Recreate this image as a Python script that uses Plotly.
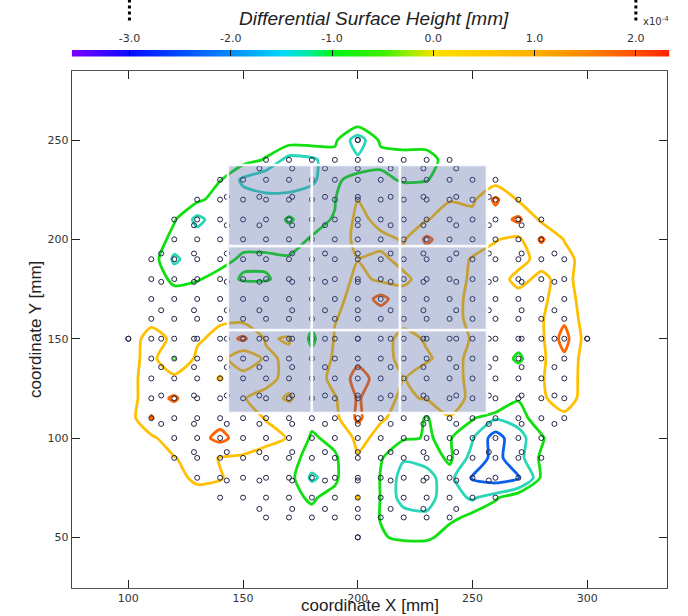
import plotly.graph_objects as go

# ---------------- data ----------------
# measurement grid for the surface height map (values in units of 1e-4 mm)
x_grid = [90, 100, 110, 120, 130, 140, 150, 160, 170, 180, 190, 200, 210, 220, 230, 240, 250, 260, 270, 280, 290, 300, 310]
y_grid = [40, 50, 60, 70, 80, 90, 100, 110, 120, 130, 140, 150, 160, 170, 180, 190, 200, 210, 220, 230, 240, 250, 260]
z_grid = [
    [0, 0, 0, 0, 0, 0, 0, 0, 0, 0, 0, 0, 0, 0, 0, 0, 0, 0, 0, 0, 0, 0, 0],
    [0, 0, 0, 0, 0, 0, 0, 0, 0, 0, 0, 0, -0.9, -1.2, -1.2, -0.6, 0, 0, 0, 0, 0, 0, 0],
    [0, 0, 0, 0, 0, 0, 0, -0.2, -0.5, -0.8, -0.5, -0.2, -1.05, -1.3, -1.4, -1.2, -0.8, -0.5, 0, 0, 0, 0, 0],
    [0, 0, 0, 0, 0.1, 0.2, 0, -0.3, -0.8, -1.1, -0.7, 0.55, -1.05, -1.7, -1.7, -1.2, -1.6, -1.1, -0.5, -0.3, 0, 0, 0],
    [0, 0, 0, 0.2, 0.7, 0.55, 0.2, 0, -0.8, -1.6, -1.2, 0.1, -1.05, -1.7, -1.7, -1.2, -2.6, -3.0, -2.6, -0.9, -0.2, 0, 0],
    [0, 0, 0, 0.45, 0.9, 0.45, 0.4, 0.1, -0.8, -1.2, -1.2, 0.4, -0.95, -1.45, -1.3, -0.9, -1.7, -2.9, -1.7, -0.9, -0.2, 0, 0],
    [0, 0, 0.3, 1.1, 1.1, 1.8, 1.0, 0.8, 0.45, -1.2, -0.6, 0.8, 0.2, -0.95, -1.02, -0.95, -1.45, -3.0, -1.7, -1.1, -0.3, 0, 0],
    [0, 0, 1.55, 1.0, 1.0, 1.1, 0.9, 0.45, 0, -0.6, 0.2, 1.7, 0.6, 0.2, -1.15, 0.45, -0.95, -1.4, -1.3, -0.6, 0.2, 0, 0],
    [0, 0, 1.2, 1.6, 1.0, 1.0, 0.55, 0.2, 0.6, 0, 0.4, 1.6, 0.9, 0.3, 0.6, 0.9, 0.3, 0, -0.95, 0.3, 1.1, 0, 0],
    [0, 0, 1.2, 0.9, 0.9, 0.45, 1.0, 0.8, 0.2, -0.2, 0.9, 1.8, 1.2, 0.45, 0.9, 0.8, 0.3, 0, 0, 0.4, 1.2, 0, 0],
    [0, 0, 1.0, -1.05, 0.8, 0.9, -0.3, 0.7, 0.3, -0.6, 0.7, 1.3, 0.9, 0.2, 0.4, 0.8, 0.3, 0, -1.3, 0.3, 1.3, 0, 0],
    [0, 0, 0.9, 0.3, 0.3, 0.9, 1.7, 0.4, 0.58, -1.3, 0.6, 0.9, 0.9, 0.2, 0.6, 0.8, 0.45, 0, -0.3, 0.3, 1.9, 0, 0],
    [0, 0, 0.2, 0.1, 0, 0.3, 0.2, 0, -0.2, -0.6, 0.45, 0.9, 0.9, 0.8, 0.9, 0.8, 0.3, 0, 0, 0.4, 1.3, 0, 0],
    [0, 0, -0.3, -0.6, -0.6, -0.5, -0.5, -0.5, -0.4, -0.2, 0.2, 0.9, 1.8, 0.9, 0.9, 0.8, 0.3, 0, 0.2, 0.3, 1.0, 0, 0],
    [0, 0, -0.5, -1.2, -1.05, -0.8, -1.05, -1.05, -0.8, -0.6, -0.2, 0.8, 0.3, 0.3, 0.9, 0.8, 0.4, 0.1, 0.75, 0.3, 0.8, 0, 0],
    [0, 0, -0.7, -1.6, -1.2, -1.2, -0.9, -0.9, -0.95, -0.98, -0.3, 0.47, 0.3, 0.8, 0.9, 0.8, 0.45, 0.2, 0.2, 0.8, 0.9, 0, 0],
    [0, 0, -0.6, -1.2, -1.25, -1.25, -1.2, -1.2, -1.2, -0.95, -0.4, 0.9, 0.8, 0.4, 1.7, 0.9, 0.8, 0.55, 0.3, 1.65, 0.45, 0, 0],
    [0, 0, 0, -0.95, -1.65, -1.2, -1.25, -1.25, -0.95, -1.2, -0.95, 0.9, 0.1, 0.1, 0.45, 0.9, 0.9, 1.0, 1.7, 0.3, 0, 0, 0],
    [0, 0, 0, -0.5, -0.9, -1.2, -1.3, -1.3, -1.3, -1.25, -1.05, 0.48, 0, -0.4, -0.3, 0.45, 0.3, 1.7, 0.4, 0, 0, 0, 0],
    [0, 0, 0, -0.3, -0.6, -0.98, -1.6, -1.9, -1.85, -1.6, -1.1, -0.8, -0.8, -1.1, -1.05, -0.5, 0, 0, 0, 0, 0, 0, 0],
    [0, 0, 0, 0, 0, -0.4, -0.8, -1.05, -1.7, -1.6, -1.2, -1.4, -1.2, -1.2, -1.2, -0.8, -0.3, 0, 0, 0, 0, 0, 0],
    [0, 0, 0, 0, 0, 0, 0, -0.7, -0.75, -0.75, -0.9, -1.8, -0.9, -0.8, -0.8, -0.5, 0, 0, 0, 0, 0, 0, 0],
    [0, 0, 0, 0, 0, 0, 0, 0, 0, 0, -0.3, -0.6, -0.3, 0, 0, 0, 0, 0, 0, 0, 0, 0, 0],
]

contour_levels = [-2.5, -1.5, -1.0, 0.5, 1.5]
contour_colors = ["#0a5fec", "#2ad6b8", "#10e010", "#ffc000", "#ff6400"]

# measurement sites, 10 mm pattern (row y -> x positions)
pts_a_y = [250, 240, 230, 220, 210, 200, 190, 180, 170, 160, 150, 140, 130, 120, 110, 100, 90, 80, 70, 60, 50]
pts_a_x = [
    [200],
    [160, 170, 180, 190, 200, 210, 220, 230, 240],
    [140, 150, 160, 170, 180, 190, 200, 210, 220, 230, 240, 250, 260],
    [130, 140, 150, 160, 170, 180, 190, 200, 210, 220, 230, 240, 250, 260, 270],
    [120, 130, 140, 150, 160, 170, 180, 190, 200, 210, 220, 230, 240, 250, 260, 270, 280],
    [120, 130, 140, 150, 160, 170, 180, 190, 200, 210, 220, 230, 240, 250, 260, 270, 280],
    [110, 120, 130, 140, 150, 160, 170, 180, 190, 200, 210, 220, 230, 240, 250, 260, 270, 280, 290],
    [110, 120, 130, 140, 150, 160, 170, 180, 190, 200, 210, 220, 230, 240, 250, 260, 270, 280, 290],
    [110, 120, 130, 140, 150, 160, 170, 180, 190, 200, 210, 220, 230, 240, 250, 260, 270, 280, 290],
    [110, 120, 130, 140, 150, 160, 170, 180, 190, 200, 210, 220, 230, 240, 250, 260, 270, 280, 290],
    [100, 110, 120, 130, 140, 150, 160, 170, 180, 190, 200, 210, 220, 230, 240, 250, 260, 270, 280, 290, 300],
    [110, 120, 130, 140, 150, 160, 170, 180, 190, 200, 210, 220, 230, 240, 250, 260, 270, 280, 290],
    [110, 120, 130, 140, 150, 160, 170, 180, 190, 200, 210, 220, 230, 240, 250, 260, 270, 280, 290],
    [110, 120, 130, 140, 150, 160, 170, 180, 190, 200, 210, 220, 230, 240, 250, 260, 270, 280, 290],
    [110, 120, 130, 140, 150, 160, 170, 180, 190, 200, 210, 220, 230, 240, 250, 260, 270, 280, 290],
    [120, 130, 140, 150, 160, 170, 180, 190, 200, 210, 220, 230, 240, 250, 260, 270, 280],
    [120, 130, 140, 150, 160, 170, 180, 190, 200, 210, 220, 230, 240, 250, 260, 270, 280],
    [130, 140, 150, 160, 170, 180, 190, 200, 210, 220, 230, 240, 250, 260, 270],
    [140, 150, 160, 170, 180, 190, 200, 210, 220, 230, 240, 250, 260],
    [160, 170, 180, 190, 200, 210, 220, 230, 240],
    [200],
]

# measurement sites, 14.3 mm pattern (row y -> x positions)
pts_b_y = [250, 235.7, 221.4, 207.1, 192.9, 178.6, 164.3, 150, 135.7, 121.4, 107.1, 92.9, 78.6, 64.3, 50]
pts_b_x = [
    [200],
    [157.1, 171.4, 185.7, 200, 214.3, 228.6, 242.9],
    [142.9, 157.1, 171.4, 185.7, 200, 214.3, 228.6, 242.9, 257.1],
    [128.6, 142.9, 157.1, 171.4, 185.7, 200, 214.3, 228.6, 242.9, 257.1, 271.4],
    [114.3, 128.6, 142.9, 157.1, 171.4, 185.7, 200, 214.3, 228.6, 242.9, 257.1, 271.4, 285.7],
    [114.3, 128.6, 142.9, 157.1, 171.4, 185.7, 200, 214.3, 228.6, 242.9, 257.1, 271.4, 285.7],
    [114.3, 128.6, 142.9, 157.1, 171.4, 185.7, 200, 214.3, 228.6, 242.9, 257.1, 271.4, 285.7],
    [100, 114.3, 128.6, 142.9, 157.1, 171.4, 185.7, 200, 214.3, 228.6, 242.9, 257.1, 271.4, 285.7, 300],
    [114.3, 128.6, 142.9, 157.1, 171.4, 185.7, 200, 214.3, 228.6, 242.9, 257.1, 271.4, 285.7],
    [114.3, 128.6, 142.9, 157.1, 171.4, 185.7, 200, 214.3, 228.6, 242.9, 257.1, 271.4, 285.7],
    [114.3, 128.6, 142.9, 157.1, 171.4, 185.7, 200, 214.3, 228.6, 242.9, 257.1, 271.4, 285.7],
    [128.6, 142.9, 157.1, 171.4, 185.7, 200, 214.3, 228.6, 242.9, 257.1, 271.4],
    [142.9, 157.1, 171.4, 185.7, 200, 214.3, 228.6, 242.9, 257.1],
    [157.1, 171.4, 185.7, 200, 214.3, 228.6, 242.9],
    [200],
]

# die field (3 x 3 cells) edges in mm
die_x_edges = [143.4, 180.0, 218.4, 256.3]
die_y_edges = [112.6, 154.4, 196.6, 237.4]

# colour scale of the height bar (value -> colour)
cbar_range = [-3.57, 2.33]
cbar_stops = [-3.57, -3.0, -2.5, -2.0, -1.5, -1.25, -1.0, -0.5, -0.2, 0.0, 0.5, 1.0, 1.5, 2.0, 2.33]
cbar_colors = ["rgb(120,0,255)", "rgb(10,10,255)", "rgb(0,75,255)", "rgb(0,140,255)", "rgb(0,215,250)",
               "rgb(0,235,170)", "rgb(0,245,20)", "rgb(60,240,0)", "rgb(170,235,0)", "rgb(250,225,0)",
               "rgb(255,200,0)", "rgb(255,175,0)", "rgb(255,135,0)", "rgb(255,80,0)", "rgb(255,35,0)"]
cbar_ticks = [-3.0, -2.0, -1.0, 0.0, 1.0, 2.0]
cbar_minor = [-3.565, -2.5, -1.5, -0.5, 0.5, 1.5]
marker_vals = [-3.0, 2.0]

x_ticks = [100, 150, 200, 250, 300]
y_ticks = [50, 100, 150, 200, 250]
x_range = [75.3, 334.9]
y_range = [24.5, 284.6]

# ---------------- figure ----------------
FONT = "DejaVu Sans"
fig = go.Figure()

for lvl, col in zip(contour_levels, contour_colors):
    fig.add_trace(go.Contour(
        x=x_grid, y=y_grid, z=z_grid, autocontour=False,
        contours=dict(start=lvl, end=lvl, size=1, coloring="none", showlabels=False),
        line=dict(color=col, width=2.8, smoothing=0.7),
        showscale=False, hoverinfo="skip", xaxis="x", yaxis="y"))

px, py = [], []
for yv, xs in zip(pts_a_y, pts_a_x):
    for xv in xs:
        px.append(xv)
        py.append(yv)
for yv, xs in zip(pts_b_y, pts_b_x):
    for xv in xs:
        px.append(xv)
        py.append(yv)
fig.add_trace(go.Scatter(
    x=px, y=py, mode="markers", xaxis="x", yaxis="y", hoverinfo="skip",
    marker=dict(symbol="circle-open", size=5, color="rgb(35,35,70)", line=dict(width=1))))

# colour bar drawn as a smooth heat strip
lo, hi = cbar_range
cscale = [[(v - lo) / (hi - lo), c] for v, c in zip(cbar_stops, cbar_colors)]
fig.add_trace(go.Heatmap(
    x=cbar_stops, y=[0, 1], z=[cbar_stops, cbar_stops], colorscale=cscale,
    zmin=lo, zmax=hi, zsmooth="best", showscale=False, hoverinfo="skip",
    xaxis="x2", yaxis="y2"))

shapes = []
for i in range(3):
    for j in range(3):
        shapes.append(dict(type="rect", xref="x", yref="y", layer="above",
                           x0=die_x_edges[i], x1=die_x_edges[i + 1],
                           y0=die_y_edges[j], y1=die_y_edges[j + 1],
                           fillcolor="rgba(80,100,165,0.34)",
                           line=dict(color="rgba(250,252,255,0.95)", width=2.5)))
for mv in marker_vals:
    shapes.append(dict(type="line", xref="x2", yref="paper", x0=mv, x1=mv, y0=0.965, y1=1.0,
                       line=dict(color="black", width=3, dash="dot")))

W, H = 688, 616
ml, mr, mt, mb = 71, 18, 0, 28
pw, ph = W - ml - mr, H - mt - mb


def fx(pxv):
    return min(1.0, max(0.0, (pxv - ml) / pw))


def fy(pyv):
    return (H - mb - pyv) / ph


def fxa(pxv):
    return (pxv - ml) / pw


tickfont = dict(family=FONT, size=11, color="#333")
fig.update_layout(
    width=W, height=H, margin=dict(l=ml, r=mr, t=mt, b=mb),
    paper_bgcolor="white", plot_bgcolor="white", showlegend=False,
    xaxis=dict(domain=[fx(71.7), fx(667.3)], range=x_range, tickvals=x_ticks, ticks="inside",
               ticklen=8, tickcolor="#222", mirror="ticks", showline=True, linecolor="#555",
               linewidth=1.2, showgrid=False, zeroline=False, tickfont=tickfont, anchor="y"),
    yaxis=dict(domain=[0, fy(71.3)], range=y_range, tickvals=y_ticks, ticks="inside",
               ticklen=8, tickcolor="#222", mirror="ticks", showline=True, linecolor="#444",
               linewidth=1.2, showgrid=False, zeroline=False, tickfont=tickfont, anchor="x"),
    xaxis2=dict(domain=[fx(71.7), fx(669.3)], range=cbar_range, anchor="y2", side="top",
                tickvals=cbar_ticks, ticktext=["%.1f" % t for t in cbar_ticks], ticks="inside",
                ticklen=6, tickcolor="#111", showline=False, showgrid=False, zeroline=False,
                tickfont=tickfont, ticklabelstandoff=5),
    xaxis3=dict(domain=[fx(71.7), fx(669.3)], range=cbar_range, anchor="y2", overlaying="x2",
                side="bottom", tickvals=cbar_minor, ticks="outside", ticklen=6, tickcolor="#111",
                showticklabels=False, showline=False, showgrid=False, zeroline=False),
    yaxis2=dict(domain=[fy(56.5), fy(50)], range=[-0.5, 1.5], anchor="x2", visible=False),
    shapes=shapes,
    annotations=[
        dict(text="coordinate X [mm]", x=fxa(369.5), y=fy(605), xref="paper", yref="paper",
             showarrow=False, font=dict(family="Liberation Sans", size=17, color="#222"),
             xanchor="center", yanchor="middle"),
        dict(text="coordinate Y [mm]", x=fxa(35), y=fy(330), xref="paper", yref="paper",
             showarrow=False, textangle=-90,
             font=dict(family="Liberation Sans", size=17, color="#222"),
             xanchor="center", yanchor="middle"),
        dict(text="<i>Differential Surface Height [mm]</i>", x=fxa(374), y=fy(18), xref="paper",
             yref="paper", showarrow=False,
             font=dict(family="Liberation Sans", size=19, color="#222"),
             xanchor="center", yanchor="middle"),
        dict(text="x10<sup>-4</sup>", x=fxa(656), y=fy(21), xref="paper", yref="paper",
             showarrow=False, font=dict(family=FONT, size=10, color="#333"),
             xanchor="center", yanchor="middle"),
    ],
)

fig.write_html("out.html")
